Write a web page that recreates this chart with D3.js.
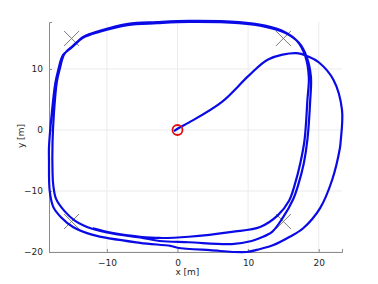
<!DOCTYPE html>
<html>
<head>
<meta charset="utf-8">
<title>Trajectory</title>
<script src="https://d3js.org/d3.v7.min.js"></script>
<style>
  body { margin: 0; background: #fff; }
  text { font-family: "DejaVu Sans", Arial, sans-serif; }
</style>
</head>
<body>
<script>
'use strict'
// waypoints (crosses) and robot path
const waypointX = [-15, 15, -15, 15]
const waypointY = [15, 15, -15, -15]
const startX = [0]
const startY = [0]

const pathX = [
  -0.5, 0.3, 1.6, 6.3, 10.1, 12.9, 16.8, 18.6, 20.0, 22.1, 23.3, 23.1, 23.0, 21.9, 20.2, 17.8, 15.9, 13.5, 11.7, 9.8, 4.6, 0.0, -1.0, -5.3, -12.0, -14.8, -16.5, -17.6, -18.1, -18.2, -18.2,
  -17.8, -17.3, -16.9, -16.2, -14.9, -13.4, -11.0, -7.1, -2.9, 1.6, 8.7, 12.5, 15.3, 17.2, 18.3, 18.9, 18.8, 18.4, 17.9, 17.1, 16.4, 14.9, 13.4, 11.7, 10.5, 7.7, 1.6, -2.5, -5.3, -9.1, -12.1, -14.5, -16.0, -17.2, -17.6, -17.7, -17.7, -17.5,
  -17.1, -16.7, -16.0, -14.8, -13.3, -10.9, -7.0, -2.9, 1.6, 8.7, 12.4, 15.1, 17.0, 18.1, 18.6, 18.4, 18.0, 17.4, 16.6, 15.8, 14.2, 11.7, 7.7, 1.6, -2.5, -5.3, -9.1, -12.0
]
const pathY = [
  -0.2, 0.4, 1.2, 4.6, 8.9, 11.6, 12.6, 12.0, 11.1, 8.2, 3.3, -2.0, -3.0, -8.2, -12.8, -16.1, -17.5, -18.9, -19.5, -20.0, -19.7, -19.3, -19.0, -18.5, -17.2, -15.9, -14.3, -12.6, -10.0, -5.0, -2.8,
  2.8, 7.7, 9.8, 12.3, 13.6, 15.1, 16.1, 17.2, 17.5, 17.7, 17.5, 16.9, 15.9, 14.3, 12.0, 8.7, 4.9, -1.6, -5.4, -9.0, -11.3, -14.4, -16.7, -17.7, -18.2, -18.7, -18.4, -18.2, -17.6, -17.0, -16.2, -14.9, -13.3, -11.3, -9.0, -6.9, -2.0, 2.8,
  7.8, 9.9, 12.5, 13.8, 15.3, 16.3, 17.4, 17.7, 17.9, 17.7, 17.1, 16.1, 14.5, 12.1, 8.7, 4.9, -1.6, -5.4, -9.0, -11.6, -14.0, -15.9, -16.7, -17.5, -17.7, -17.5, -16.9, -16.1
]

const xTicks = [-10, 0, 10, 20]
const yTicks = [-20, -10, 0, 10]

const W = 378, H = 284
const margin = {top: 22, right: 36, bottom: 32, left: 49}
const width = W - margin.left - margin.right
const height = H - margin.top - margin.bottom

const svg = d3.select('body').append('svg')
  .attr('width', W)
  .attr('height', H)

svg.append('rect')
  .attr('width', W)
  .attr('height', H)
  .attr('fill', '#ffffff')

const g = svg.append('g')
  .attr('transform', `translate(${margin.left},${margin.top})`)

const x = d3.scaleLinear().domain([-18.2, 23.3]).range([0, width])
const y = d3.scaleLinear().domain([-20, 17.7]).range([height, 0])

// grid
g.selectAll('.gx').data(xTicks).enter().append('line')
  .attr('x1', d => x(d)).attr('x2', d => x(d))
  .attr('y1', 0).attr('y2', height)
  .attr('stroke', '#ebebeb').attr('stroke-width', 1)
g.selectAll('.gy').data(yTicks).enter().append('line')
  .attr('x1', 0).attr('x2', width)
  .attr('y1', d => y(d)).attr('y2', d => y(d))
  .attr('stroke', '#ebebeb').attr('stroke-width', 1)

// axes
const xAxis = g.append('g')
  .attr('transform', `translate(0,${height})`)
  .call(d3.axisBottom(x).tickValues(xTicks).tickSize(-3).tickPadding(8))
const yAxis = g.append('g')
  .call(d3.axisLeft(y).tickValues(yTicks).tickSize(-3).tickPadding(6))

for (const a of [xAxis, yAxis]) {
  a.select('.domain').attr('stroke', '#8c8c8c')
  a.selectAll('.tick line').attr('stroke', '#8c8c8c')
  a.selectAll('.tick text')
    .attr('fill', '#262626')
    .style('font-size', '9px')
}

// waypoint crosses
const cs = 7.5
const wp = g.selectAll('.wp').data(waypointX.map((d, i) => [d, waypointY[i]])).enter().append('g')
wp.append('line')
  .attr('x1', d => x(d[0]) - cs).attr('y1', d => y(d[1]) - cs)
  .attr('x2', d => x(d[0]) + cs).attr('y2', d => y(d[1]) + cs)
  .attr('stroke', '#7a7a7a').attr('stroke-width', 1)
wp.append('line')
  .attr('x1', d => x(d[0]) - cs).attr('y1', d => y(d[1]) + cs)
  .attr('x2', d => x(d[0]) + cs).attr('y2', d => y(d[1]) - cs)
  .attr('stroke', '#7a7a7a').attr('stroke-width', 1)

// path
const line = d3.line()
  .x(d => x(d[0]))
  .y(d => y(d[1]))
  .curve(d3.curveCatmullRom.alpha(0.5))

g.append('path')
  .datum(pathX.map((d, i) => [d, pathY[i]]))
  .attr('d', line)
  .attr('fill', 'none')
  .attr('stroke', '#0a0ae6')
  .attr('stroke-width', 2.2)
  .attr('stroke-linejoin', 'round')

// start marker
g.selectAll('.start').data(startX).enter().append('circle')
  .attr('cx', d => x(d))
  .attr('cy', (d, i) => y(startY[i]))
  .attr('r', 5)
  .attr('fill', 'none')
  .attr('stroke', '#e01010')
  .attr('stroke-width', 1.8)

// labels
svg.append('text')
  .attr('x', margin.left + x(1.4))
  .attr('y', 275)
  .attr('text-anchor', 'middle')
  .attr('fill', '#262626')
  .style('font-size', '9px')
  .text('x [m]')

svg.append('text')
  .attr('transform', `translate(24,${margin.top + y(-1)}) rotate(-90)`)
  .attr('text-anchor', 'middle')
  .attr('fill', '#262626')
  .style('font-size', '9px')
  .text('y [m]')
</script>
</body>
</html>
